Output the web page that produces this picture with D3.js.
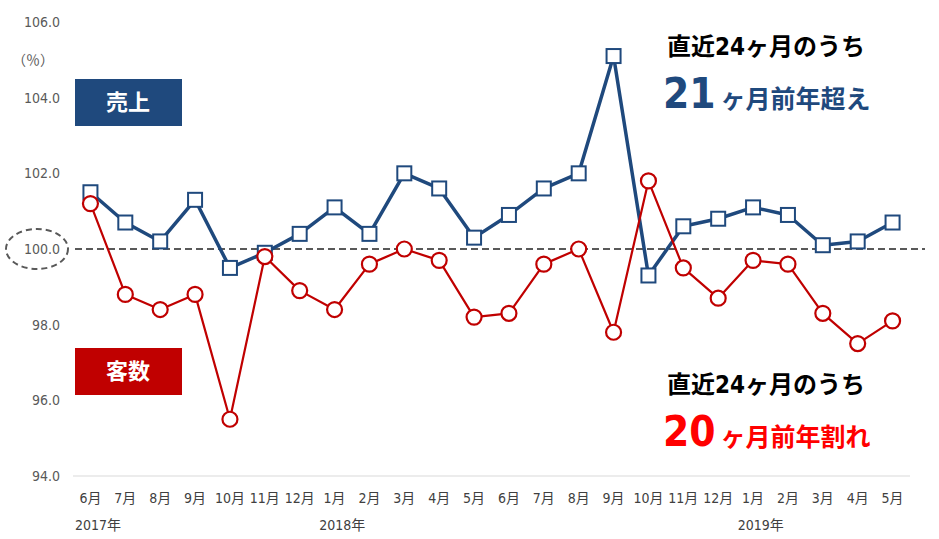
<!DOCTYPE html>
<html>
<head>
<meta charset="utf-8">
<script src="https://cdn.jsdelivr.net/npm/d3@7"></script>
<style>
  body { margin: 0; background: #fff; }
  svg { display: block; }
  text { font-family: "DejaVu Sans Condensed", "Noto Sans CJK JP", sans-serif; font-stretch: condensed; }
  .jp { font-family: "Noto Sans CJK JP", sans-serif; }
</style>
</head>
<body>
<svg id="chart" width="939" height="539"></svg>
<script>
const months = ["6月","7月","8月","9月","10月","11月","12月","1月","2月","3月","4月","5月",
  "6月","7月","8月","9月","10月","11月","12月","1月","2月","3月","4月","5月"];
const years = [{ label: "2017年", start: 0 }, { label: "2018年", start: 7 }, { label: "2019年", start: 19 }];
const sales = [101.5,100.7,100.2,101.3,99.5,99.9,100.4,101.1,100.4,102.0,101.6,100.3,
  100.9,101.6,102.0,105.1,99.3,100.6,100.8,101.1,100.9,100.1,100.2,100.7];
const customers = [101.2,98.8,98.4,98.8,95.5,99.8,98.9,98.4,99.6,100.0,99.7,98.2,
  98.3,99.6,100.0,97.8,101.8,99.5,98.7,99.7,99.6,98.3,97.5,98.1];
const yTicks = [94, 96, 98, 100, 102, 104, 106];

const blue = "#1F497D", red = "#C00000";
const svg = d3.select("#chart");
const idx = d3.range(months.length);

const x = d3.scaleBand().domain(idx).range([73, 910]);
const cx = (i) => x(i) + x.bandwidth() / 2;
const y = d3.scaleLinear().domain([94, 106]).range([476, 22]);

// y tick labels
svg.append("g")
  .selectAll("text")
  .data(yTicks)
  .join("text")
  .attr("x", 60)
  .attr("y", (d) => y(d) + 5)
  .attr("text-anchor", "end")
  .style("font-size", "14px")
  .style("fill", "#595959")
  .text((d) => d.toFixed(1));

svg.append("text")
  .attr("class", "jp")
  .attr("x", 12).attr("y", 65)
  .style("font-size", "14px").style("fill", "#595959")
  .text("（％）");

// bottom axis line
svg.append("line")
  .attr("x1", 73).attr("x2", 910)
  .attr("y1", y(94)).attr("y2", y(94))
  .attr("stroke", "#D9D9D9").attr("stroke-width", 1);

// 100 reference line and dashed ellipse round its label
svg.append("line")
  .attr("x1", 75).attr("x2", 925)
  .attr("y1", y(100)).attr("y2", y(100))
  .attr("stroke", "#595959").attr("stroke-width", 2)
  .attr("stroke-dasharray", "7,4");

svg.append("ellipse")
  .attr("cx", 37).attr("cy", y(100))
  .attr("rx", 31).attr("ry", 20)
  .attr("fill", "none")
  .attr("stroke", "#595959").attr("stroke-width", 2)
  .attr("stroke-dasharray", "6,4");

// month and year labels
svg.append("g")
  .selectAll("text")
  .data(months)
  .join("text")
  .attr("x", (_, i) => cx(i))
  .attr("y", 503)
  .attr("text-anchor", "middle")
  .style("font-size", "14px")
  .style("fill", "#404040")
  .text((d) => d);

svg.append("g")
  .selectAll("text")
  .data(years)
  .join("text")
  .attr("x", (d) => x(d.start) + 2)
  .attr("y", 530)
  .style("font-size", "14px")
  .style("fill", "#404040")
  .text((d) => d.label);

// series
const line = d3.line().x((_, i) => cx(i)).y((d) => y(d));

svg.append("path")
  .datum(sales)
  .attr("d", line)
  .attr("fill", "none")
  .attr("stroke", blue)
  .attr("stroke-width", 3.5)
  .attr("stroke-linejoin", "round");

svg.append("g")
  .selectAll("rect")
  .data(sales)
  .join("rect")
  .attr("x", (_, i) => cx(i) - 7)
  .attr("y", (d) => y(d) - 7)
  .attr("width", 14).attr("height", 14)
  .attr("fill", "#fff")
  .attr("stroke", blue).attr("stroke-width", 2);

svg.append("path")
  .datum(customers)
  .attr("d", line)
  .attr("fill", "none")
  .attr("stroke", red)
  .attr("stroke-width", 2.2)
  .attr("stroke-linejoin", "round");

svg.append("g")
  .selectAll("circle")
  .data(customers)
  .join("circle")
  .attr("cx", (_, i) => cx(i))
  .attr("cy", (d) => y(d))
  .attr("r", 7.5)
  .attr("fill", "#fff")
  .attr("stroke", red).attr("stroke-width", 2.2);

// legend boxes
const boxes = [
  { label: "売上", color: blue, y: 79 },
  { label: "客数", color: red, y: 348 }
];
const lg = svg.append("g").selectAll("g").data(boxes).join("g");
lg.append("rect")
  .attr("x", 75).attr("y", (d) => d.y)
  .attr("width", 107).attr("height", 47)
  .attr("fill", (d) => d.color);
lg.append("text")
  .attr("class", "jp")
  .attr("x", 128).attr("y", (d) => d.y + 31)
  .attr("text-anchor", "middle")
  .style("font-size", "22px").style("font-weight", "bold")
  .style("fill", "#fff")
  .text((d) => d.label);

// callouts
const notes = [
  { y: 55, num: "21", rest: "ヶ月前年超え", color: blue },
  { y: 393, num: "20", rest: "ヶ月前年割れ", color: "#FF0000" }
];
const ng = svg.append("g").selectAll("g").data(notes).join("g");
ng.append("text")
  .attr("x", 667).attr("y", (d) => d.y)
  .style("font-size", "24px").style("font-weight", "bold")
  .style("fill", "#000")
  .text("直近24ヶ月のうち");
ng.append("text")
  .attr("x", 663).attr("y", (d) => d.y + 53)
  .style("fill", (d) => d.color)
  .style("font-weight", "bold")
  .call((t) => {
    t.append("tspan").style("font-size", "42px").text((d) => d.num);
    t.append("tspan").attr("class", "jp").attr("dx", 5).style("font-size", "25px").text((d) => d.rest);
  });
</script>
</body>
</html>
